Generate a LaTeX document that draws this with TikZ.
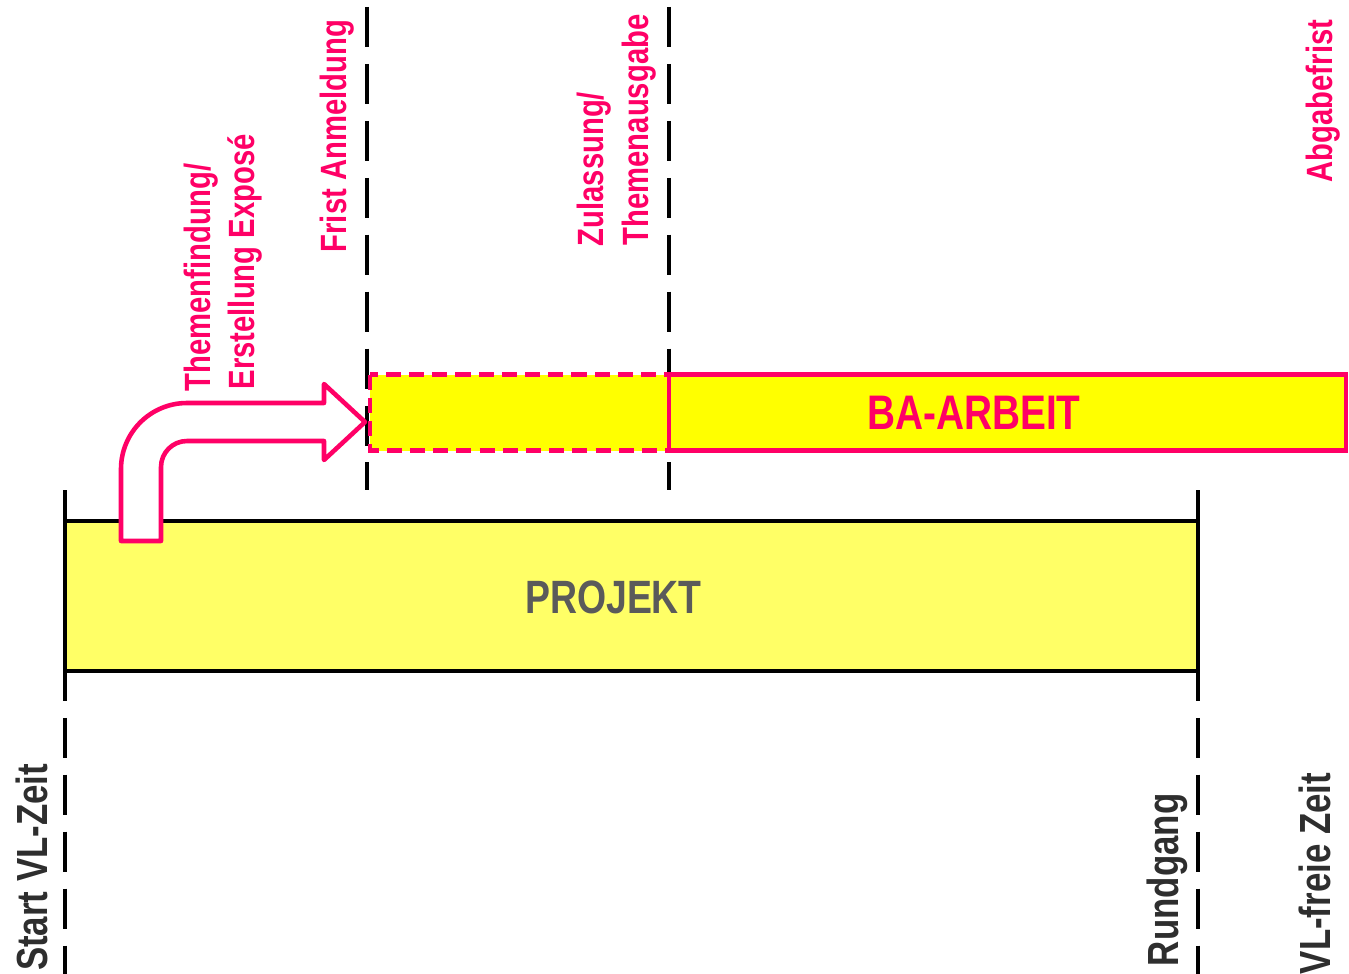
\documentclass[tikz,border=0pt]{standalone}
\usepackage{fontspec}
\newfontfamily\labelfont[FakeStretch=0.8]{Liberation Sans}
\definecolor{bapink}{HTML}{FF0066}
\definecolor{projyellow}{HTML}{FFFF66}
\definecolor{bayellow}{HTML}{FFFF00}
\definecolor{darktext}{HTML}{2E2E2E}
\definecolor{projtext}{HTML}{5A5A5A}

\begin{document}
\begin{tikzpicture}[
  marker/.style={line width=1.3pt, dash pattern=on 11.4pt off 4.8pt},
  phase/.style={rotate=90, anchor=base west, inner sep=0pt, text=bapink,
    font=\labelfont\bfseries\fontsize{10.4}{12.5}\selectfont},
  event/.style={rotate=90, anchor=base east, inner sep=0pt, text=darktext,
    font=\labelfont\bfseries\fontsize{12.4}{15}\selectfont},
  box/.style={line width=1.1pt, draw=black, fill=projyellow},
  babox/.style={line width=1.4pt, draw=bapink, fill=bayellow}
]
  \useasboundingbox (0,0) rectangle (13.49,-9.73);

  % time markers
  \draw[marker] (0.65,-4.90) -- (0.65,-9.80);
  \draw[marker] (3.67,-0.07) -- (3.67,-4.90);
  \draw[marker] (6.69,-0.07) -- (6.69,-4.90);
  \draw[marker] (11.98,-4.90) -- (11.98,-9.80);

  % bars
  \draw[box] (0.65,-5.21) rectangle (11.98,-6.71);
  \draw[babox, dash pattern=on 4.3pt off 2.3pt] (3.70,-3.745) rectangle (6.69,-4.505);
  \draw[babox] (6.69,-3.745) rectangle (13.46,-4.505);
  \node[anchor=base, inner sep=0pt, text=projtext,
    font=\labelfont\bfseries\fontsize{13.3}{16}\selectfont] (projekt) at (6.135,-6.13) {PROJEKT};
  \node[anchor=base, inner sep=0pt, text=bapink,
    font=\labelfont\bfseries\fontsize{13.8}{16}\selectfont] (arbeit) at (9.74,-4.29) {BA-ARBEIT};

  % bent arrow
  \draw[line width=1.3pt, draw=bapink, fill=white, line join=round]
    (1.21,-5.41) -- (1.21,-4.69) arc[start angle=180, end angle=90, radius=0.66]
    -- (3.24,-4.03) -- (3.24,-3.84) -- (3.65,-4.22) -- (3.24,-4.60) -- (3.24,-4.41)
    -- (1.87,-4.41) arc[start angle=90, end angle=180, radius=0.26]
    -- (1.61,-5.41) -- cycle;

  % labels
  \node[phase] (thema) at (2.10,-3.92) {Themenfindung/};
  \node[phase] (expose) at (2.54,-3.90) {Erstellung Exposé};
  \node[phase] (frist) at (3.46,-2.53) {Frist Anmeldung};
  \node[phase] (zulassung) at (6.03,-2.47) {Zulassung/};
  \node[phase] (ausgabe) at (6.48,-2.46) {Themenausgabe};
  \node[phase] (abgabe) at (13.32,-1.83) {Abgabefrist};
  \node[event] (start) at (0.47,-7.63) {Start VL-Zeit};
  \node[event] (rundgang) at (11.78,-7.93) {Rundgang};
  \node[event] (vlfrei) at (13.30,-7.72) {VL-freie Zeit};
\end{tikzpicture}
\end{document}
